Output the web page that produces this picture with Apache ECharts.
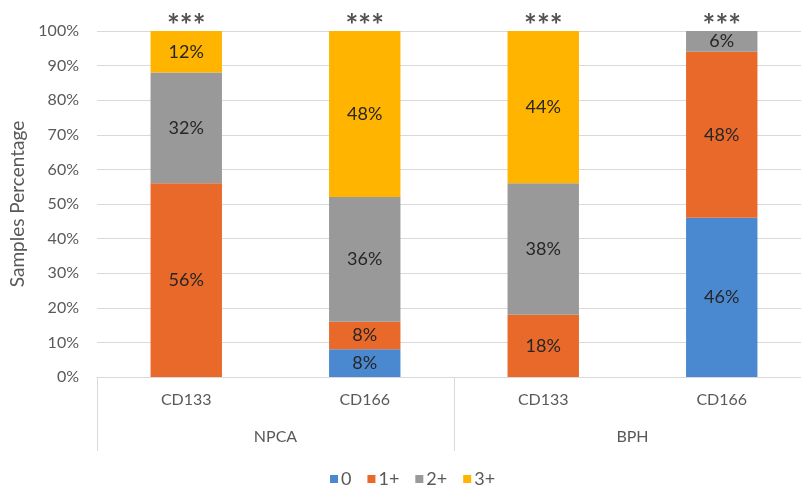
<!DOCTYPE html>
<html>
<head>
<meta charset="utf-8">
<script src="https://cdn.jsdelivr.net/npm/echarts@6/dist/echarts.min.js"></script>
<style>
  html, body { margin: 0; padding: 0; background: #fff; overflow: hidden; }
  /* the plot area runs a little past the right edge of the window */
  #chart { width: 811px; height: 487px; }
</style>
</head>
<body>
<div id="chart"></div>
<script>
// Marker categories, tumour groups and score shares (%)
const markers = ['CD133', 'CD166', 'CD133', 'CD166'];
const groups = ['NPCA', 'BPH'];
const score0 = [0, 8, 0, 46];
const score1 = [56, 8, 18, 48];
const score2 = [32, 36, 38, 6];
const score3 = [12, 48, 44, 0];
const significance = ['***', '***', '***', '***'];
const yTicks = [0, 10, 20, 30, 40, 50, 60, 70, 80, 90, 100];

const FONT = 'Lato';
const TEXT = '#595959';
const GRID_LINE = '#d9d9d9';

const colors = {
  '0': '#4a89d0',
  '1+': '#e8692a',
  '2+': '#999999',
  '3+': '#ffb400'
};

function stackSeries(name, values) {
  return {
    name: name,
    type: 'bar',
    stack: 'total',
    xAxisIndex: 0,
    barWidth: '40%',
    data: values,
    itemStyle: { color: colors[name] },
    label: {
      show: true,
      position: 'inside',
      fontFamily: FONT,
      fontSize: 18,
      color: '#262626',
      formatter: p => (p.value > 0 ? p.value + '%' : '')
    },
    emphasis: { disabled: true }
  };
}

const chart = echarts.init(document.getElementById('chart'));
chart.setOption({
  animation: false,
  textStyle: { fontFamily: FONT },
  grid: { left: 97, top: 31, right: 0, bottom: 110, containLabel: false },
  legend: {
    data: ['0', '1+', '2+', '3+'],
    top: 470,
    left: 330,
    padding: 0,
    itemWidth: 8,
    itemHeight: 8,
    itemGap: 16,
    icon: 'rect',
    textStyle: { fontFamily: FONT, fontSize: 18, color: TEXT, padding: [0, 0, 0, -2] }
  },
  xAxis: [
    {
      type: 'category',
      data: markers,
      position: 'bottom',
      axisLine: { show: true, lineStyle: { color: GRID_LINE } },
      axisTick: { show: false },
      axisLabel: { fontFamily: FONT, fontSize: 16, color: TEXT, margin: 15, interval: 0 }
    },
    {
      type: 'category',
      data: groups,
      position: 'bottom',
      axisLine: { show: false },
      axisTick: { show: true, length: 74, interval: 0, lineStyle: { color: GRID_LINE } },
      axisLabel: { fontFamily: FONT, fontSize: 16, color: TEXT, margin: 52, interval: 0 }
    }
  ],
  yAxis: {
    type: 'value',
    min: yTicks[0],
    max: yTicks[yTicks.length - 1],
    interval: yTicks[1] - yTicks[0],
    name: 'Samples Percentage',
    nameLocation: 'middle',
    nameGap: 69,
    nameTextStyle: { fontFamily: FONT, fontSize: 19, color: TEXT },
    axisLine: { show: false },
    axisTick: { show: false },
    splitLine: { lineStyle: { color: GRID_LINE } },
    axisLabel: { fontFamily: FONT, fontSize: 16, color: TEXT, margin: 18, formatter: '{value}%' }
  },
  series: [
    stackSeries('0', score0),
    stackSeries('1+', score1),
    stackSeries('2+', score2),
    stackSeries('3+', score3),
    {
      name: 'significance',
      type: 'scatter',
      xAxisIndex: 0,
      symbolSize: 0,
      data: significance.map((s, i) => [i, score0[i] + score1[i] + score2[i] + score3[i]]),
      label: {
        show: true,
        position: 'top',
        distance: -10,
        fontFamily: FONT,
        fontWeight: 'bold',
        fontSize: 30,
        color: '#262626',
        formatter: p => significance[p.dataIndex]
      },
      emphasis: { disabled: true },
      silent: true
    }
  ]
});
</script>
</body>
</html>
